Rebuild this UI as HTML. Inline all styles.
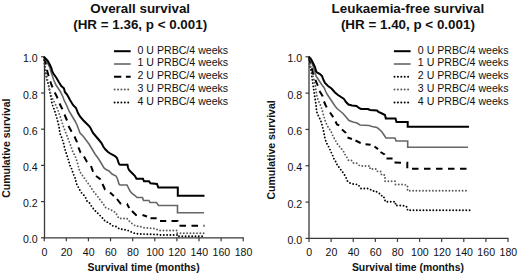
<!DOCTYPE html>
<html><head><meta charset="utf-8"><style>
html,body{margin:0;padding:0;background:#fff;}
svg{display:block;font-family:"Liberation Sans", sans-serif;}
</style></head><body>
<svg width="520" height="275" viewBox="0 0 520 275" fill="#111">
<text x="140.2" y="12.8" text-anchor="middle" font-weight="bold" font-size="13.4">Overall survival</text>
<text x="140.2" y="28.8" text-anchor="middle" font-weight="bold" font-size="13.4">(HR = 1.36, p &lt; 0.001)</text>
<path d="M44.5 56.8V237.8H243.73" fill="none" stroke="#3a3a3a" stroke-width="1.3"/>
<path d="M41.0 237.8H44.5" stroke="#3a3a3a" stroke-width="1.2"/>
<text transform="translate(37.7 243.3) scale(1.06 1)" text-anchor="end" font-size="10">0.0</text>
<path d="M41.0 201.6H44.5" stroke="#3a3a3a" stroke-width="1.2"/>
<text transform="translate(37.7 207.1) scale(1.06 1)" text-anchor="end" font-size="10">0.2</text>
<path d="M41.0 165.4H44.5" stroke="#3a3a3a" stroke-width="1.2"/>
<text transform="translate(37.7 170.9) scale(1.06 1)" text-anchor="end" font-size="10">0.4</text>
<path d="M41.0 129.2H44.5" stroke="#3a3a3a" stroke-width="1.2"/>
<text transform="translate(37.7 134.7) scale(1.06 1)" text-anchor="end" font-size="10">0.6</text>
<path d="M41.0 93.0H44.5" stroke="#3a3a3a" stroke-width="1.2"/>
<text transform="translate(37.7 98.5) scale(1.06 1)" text-anchor="end" font-size="10">0.8</text>
<path d="M41.0 56.8H44.5" stroke="#3a3a3a" stroke-width="1.2"/>
<text transform="translate(37.7 62.3) scale(1.06 1)" text-anchor="end" font-size="10">1.0</text>
<path d="M44.2 237.8V241.3" stroke="#3a3a3a" stroke-width="1.2"/>
<text transform="translate(44.5 256) scale(1.06 1)" text-anchor="middle" font-size="10">0</text>
<path d="M66.31 237.8V241.3" stroke="#3a3a3a" stroke-width="1.2"/>
<text transform="translate(66.61 256) scale(1.06 1)" text-anchor="middle" font-size="10">20</text>
<path d="M88.43 237.8V241.3" stroke="#3a3a3a" stroke-width="1.2"/>
<text transform="translate(88.73 256) scale(1.06 1)" text-anchor="middle" font-size="10">40</text>
<path d="M110.54 237.8V241.3" stroke="#3a3a3a" stroke-width="1.2"/>
<text transform="translate(110.84 256) scale(1.06 1)" text-anchor="middle" font-size="10">60</text>
<path d="M132.66 237.8V241.3" stroke="#3a3a3a" stroke-width="1.2"/>
<text transform="translate(132.96 256) scale(1.06 1)" text-anchor="middle" font-size="10">80</text>
<path d="M154.77 237.8V241.3" stroke="#3a3a3a" stroke-width="1.2"/>
<text transform="translate(155.07000000000002 256) scale(1.06 1)" text-anchor="middle" font-size="10">100</text>
<path d="M176.88 237.8V241.3" stroke="#3a3a3a" stroke-width="1.2"/>
<text transform="translate(177.18 256) scale(1.06 1)" text-anchor="middle" font-size="10">120</text>
<path d="M199.0 237.8V241.3" stroke="#3a3a3a" stroke-width="1.2"/>
<text transform="translate(199.3 256) scale(1.06 1)" text-anchor="middle" font-size="10">140</text>
<path d="M221.11 237.8V241.3" stroke="#3a3a3a" stroke-width="1.2"/>
<text transform="translate(221.41000000000003 256) scale(1.06 1)" text-anchor="middle" font-size="10">160</text>
<path d="M243.23 237.8V241.3" stroke="#3a3a3a" stroke-width="1.2"/>
<text transform="translate(243.53 256) scale(1.06 1)" text-anchor="middle" font-size="10">180</text>
<text x="143.6" y="270.8" text-anchor="middle" font-weight="bold" font-size="10.4">Survival time (months)</text>
<text transform="translate(9.7 148.2) rotate(-90)" text-anchor="middle" font-weight="bold" font-size="10.5">Cumulative survival</text>
<path d="M114 51.2H130.7" fill="none" stroke="#000" stroke-width="2"/>
<text x="137.5" y="53.6" font-size="10.6">0 U PRBC/4 weeks</text>
<path d="M114 64.0H130.7" fill="none" stroke="#666" stroke-width="1.6"/>
<text x="137.5" y="66.4" font-size="10.6">1 U PRBC/4 weeks</text>
<path d="M114 76.80000000000001H130.7" fill="none" stroke="#000" stroke-width="2" stroke-dasharray="7.3 4.6"/>
<text x="137.5" y="79.20000000000002" font-size="10.6">2 U PRBC/4 weeks</text>
<path d="M114.6 89.60000000000001H128.5" fill="none" stroke="#5a5a5a" stroke-width="2" stroke-dasharray="0 3.4" stroke-linecap="round"/>
<text x="137.5" y="92.00000000000001" font-size="10.6">3 U PRBC/4 weeks</text>
<path d="M114.6 102.4H128.5" fill="none" stroke="#000" stroke-width="2" stroke-dasharray="0 3.4" stroke-linecap="round"/>
<text x="137.5" y="104.80000000000001" font-size="10.6">4 U PRBC/4 weeks</text>
<path d="M44.00 57.00 44.50 65.00 45.50 73.00 47.00 80.00 49.00 87.00 50.50 95.00 51.50 100.00 52.00 104.00 53.50 107.50 55.50 113.50 57.50 120.50 59.00 126.50 60.00 133.50 61.50 137.00 62.50 140.00 63.50 143.00 64.50 147.50 66.00 152.50 67.00 155.50 68.00 158.50 69.00 162.00 70.00 165.50 71.50 168.50 73.00 173.00 74.00 175.50 75.50 179.00 76.00 182.00 77.00 185.00 78.50 187.50 80.00 190.50 82.00 193.50 84.00 195.30 85.50 197.50 87.00 201.00 89.50 203.00 92.00 207.00 95.00 210.50 97.50 213.00 100.00 215.50 102.50 218.00 105.00 221.00 108.00 222.50 110.50 224.00 113.00 226.00 116.00 226.50 119.50 229.00 123.00 229.50 127.00 230.00 130.00 231.50 133.00 232.50 135.00 233.50 140.00 234.00 157.00 234.50 160.00 235.00 177.00 235.00 177.00 236.30 204.50 236.30" fill="none" stroke="#000" stroke-width="1.9" stroke-dasharray="0 3.3" stroke-linecap="round"/>
<path d="M44.00 57.00 45.00 65.00 46.00 72.00 47.50 80.00 49.00 88.00 51.00 95.00 53.00 100.00 54.50 102.50 56.50 106.50 59.00 113.00 61.00 119.00 63.00 125.50 65.50 132.00 68.00 138.50 70.50 145.00 72.50 151.00 75.50 157.00 77.50 163.00 79.00 169.00 80.00 172.00 82.50 175.50 86.00 180.50 90.00 186.00 93.50 191.50 95.50 194.00 98.00 197.00 100.50 200.50 103.00 203.50 105.50 207.50 109.00 209.00 112.00 210.50 115.50 212.50 117.50 216.00 119.00 218.50 127.00 218.50 129.00 221.00 132.00 223.50 135.50 226.00 140.00 226.50 143.00 227.50 147.00 228.00 154.00 228.50 157.00 229.50 159.00 230.50 177.00 230.50 177.00 233.20 204.00 233.20" fill="none" stroke="#5a5a5a" stroke-width="1.9" stroke-dasharray="0 3.3" stroke-linecap="round"/>
<path d="M44.33 58.15 46.00 64.00 46.08 64.41 M47.09 69.82 47.50 72.00 48.67 76.11 M50.29 81.37 51.50 85.00 52.53 87.47 M54.75 92.50 57.00 97.00 57.53 98.37 M59.50 103.50 62.41 109.31 M64.50 114.50 67.00 120.50 M68.50 126.00 71.50 131.50 71.62 131.70 M74.50 136.50 77.00 142.00 77.06 142.22 M78.47 147.37 78.50 147.50 80.50 152.50 80.72 152.75 M84.00 156.50 87.00 162.00 87.12 162.12 M91.00 166.00 93.00 171.50 93.13 171.69 M96.00 176.00 100.00 179.00 100.32 179.64 M102.50 184.00 105.00 189.50 105.32 189.69 M110.00 192.50 113.88 195.90 M117.00 199.00 120.50 203.50 121.30 203.56 M126.98 204.00 127.00 204.00 129.27 208.09 M132.00 211.00 136.00 215.00 136.84 215.00 M142.50 215.00 146.98 216.49 M150.50 218.30 156.64 218.30 M160.00 221.00 166.21 221.00 M171.50 221.00 177.50 221.00 177.50 221.50 M179.50 225.80 186.00 225.80 M191.50 225.80 198.00 225.80 M203.50 225.80 204.50 225.80" fill="none" stroke="#000" stroke-width="2"/>
<path d="M44.00 57.00 46.00 60.00 48.00 64.00 49.60 67.00 51.20 72.60 52.70 76.70 53.70 80.00 56.00 85.00 60.00 91.00 63.00 97.00 64.00 100.00 66.50 105.00 69.00 111.00 72.00 116.00 75.00 121.00 77.00 125.00 78.50 129.00 80.00 133.00 83.00 136.00 86.00 140.00 89.00 144.00 92.00 149.00 95.00 154.00 99.00 159.50 102.00 164.50 104.00 168.00 106.00 169.50 109.00 171.00 112.00 174.00 116.00 176.00 117.50 179.00 119.00 184.00 120.00 185.00 127.00 185.00 128.50 188.00 130.00 191.00 132.00 193.50 135.00 195.50 137.00 197.50 142.50 197.50 143.50 200.50 149.00 200.50 150.00 202.50 156.50 202.50 158.50 205.50 177.50 205.50 177.50 212.80 204.00 212.80" fill="none" stroke="#666" stroke-width="1.6"/>
<path d="M44.00 57.00 47.60 60.60 49.60 64.20 51.40 68.00 52.20 71.10 53.70 74.10 56.20 77.50 58.80 82.00 61.30 86.10 63.90 88.20 64.90 92.00 67.00 94.50 69.00 98.00 70.00 100.00 73.00 105.00 76.00 108.00 78.00 113.00 80.00 116.50 83.00 120.00 86.00 123.00 89.00 126.00 90.50 128.00 93.00 133.00 96.00 136.50 99.00 140.00 101.50 143.00 103.50 147.00 105.50 149.50 108.00 152.00 111.00 154.00 115.00 156.00 117.00 158.00 118.00 161.00 119.00 164.00 120.00 164.80 127.50 164.80 128.00 167.50 129.00 170.00 131.00 172.00 133.00 174.00 135.00 176.00 136.50 178.80 143.00 178.80 144.00 181.30 149.00 181.30 150.50 183.30 157.00 184.00 158.30 187.50 177.80 187.50 177.80 195.80 204.50 195.80" fill="none" stroke="#000" stroke-width="2"/>
<text x="407.9" y="12.8" text-anchor="middle" font-weight="bold" font-size="13.4">Leukaemia-free survival</text>
<text x="407.9" y="28.8" text-anchor="middle" font-weight="bold" font-size="13.4">(HR = 1.40, p &lt; 0.001)</text>
<path d="M309 56.8V238.4H508.53" fill="none" stroke="#3a3a3a" stroke-width="1.3"/>
<path d="M305.5 238.4H309" stroke="#3a3a3a" stroke-width="1.2"/>
<text transform="translate(302.2 243.9) scale(1.06 1)" text-anchor="end" font-size="10">0.0</text>
<path d="M305.5 202.08H309" stroke="#3a3a3a" stroke-width="1.2"/>
<text transform="translate(302.2 207.58) scale(1.06 1)" text-anchor="end" font-size="10">0.2</text>
<path d="M305.5 165.76H309" stroke="#3a3a3a" stroke-width="1.2"/>
<text transform="translate(302.2 171.26) scale(1.06 1)" text-anchor="end" font-size="10">0.4</text>
<path d="M305.5 129.44H309" stroke="#3a3a3a" stroke-width="1.2"/>
<text transform="translate(302.2 134.94) scale(1.06 1)" text-anchor="end" font-size="10">0.6</text>
<path d="M305.5 93.12H309" stroke="#3a3a3a" stroke-width="1.2"/>
<text transform="translate(302.2 98.62) scale(1.06 1)" text-anchor="end" font-size="10">0.8</text>
<path d="M305.5 56.8H309" stroke="#3a3a3a" stroke-width="1.2"/>
<text transform="translate(302.2 62.3) scale(1.06 1)" text-anchor="end" font-size="10">1.0</text>
<path d="M309.0 238.4V241.9" stroke="#3a3a3a" stroke-width="1.2"/>
<text transform="translate(309.3 256) scale(1.06 1)" text-anchor="middle" font-size="10">0</text>
<path d="M331.11 238.4V241.9" stroke="#3a3a3a" stroke-width="1.2"/>
<text transform="translate(331.41 256) scale(1.06 1)" text-anchor="middle" font-size="10">20</text>
<path d="M353.23 238.4V241.9" stroke="#3a3a3a" stroke-width="1.2"/>
<text transform="translate(353.53000000000003 256) scale(1.06 1)" text-anchor="middle" font-size="10">40</text>
<path d="M375.34 238.4V241.9" stroke="#3a3a3a" stroke-width="1.2"/>
<text transform="translate(375.64 256) scale(1.06 1)" text-anchor="middle" font-size="10">60</text>
<path d="M397.46 238.4V241.9" stroke="#3a3a3a" stroke-width="1.2"/>
<text transform="translate(397.76 256) scale(1.06 1)" text-anchor="middle" font-size="10">80</text>
<path d="M419.57 238.4V241.9" stroke="#3a3a3a" stroke-width="1.2"/>
<text transform="translate(419.87 256) scale(1.06 1)" text-anchor="middle" font-size="10">100</text>
<path d="M441.68 238.4V241.9" stroke="#3a3a3a" stroke-width="1.2"/>
<text transform="translate(441.98 256) scale(1.06 1)" text-anchor="middle" font-size="10">120</text>
<path d="M463.8 238.4V241.9" stroke="#3a3a3a" stroke-width="1.2"/>
<text transform="translate(464.1 256) scale(1.06 1)" text-anchor="middle" font-size="10">140</text>
<path d="M485.91 238.4V241.9" stroke="#3a3a3a" stroke-width="1.2"/>
<text transform="translate(486.21000000000004 256) scale(1.06 1)" text-anchor="middle" font-size="10">160</text>
<path d="M508.03 238.4V241.9" stroke="#3a3a3a" stroke-width="1.2"/>
<text transform="translate(508.33 256) scale(1.06 1)" text-anchor="middle" font-size="10">180</text>
<text x="407.9" y="270.8" text-anchor="middle" font-weight="bold" font-size="10.4">Survival time (months)</text>
<text transform="translate(275 149.9) rotate(-90)" text-anchor="middle" font-weight="bold" font-size="10.5">Cumulative survival</text>
<path d="M393.9 51.2H410.59999999999997" fill="none" stroke="#000" stroke-width="2"/>
<text x="417.8" y="53.6" font-size="10.6">0 U PRBC/4 weeks</text>
<path d="M393.9 64.0H410.59999999999997" fill="none" stroke="#666" stroke-width="1.6"/>
<text x="417.8" y="66.4" font-size="10.6">1 U PRBC/4 weeks</text>
<path d="M394.5 76.80000000000001H408.4" fill="none" stroke="#000" stroke-width="2" stroke-dasharray="0 3.4" stroke-linecap="round"/>
<text x="417.8" y="79.20000000000002" font-size="10.6">2 U PRBC/4 weeks</text>
<path d="M394.5 89.60000000000001H408.4" fill="none" stroke="#5a5a5a" stroke-width="2" stroke-dasharray="0 3.4" stroke-linecap="round"/>
<text x="417.8" y="92.00000000000001" font-size="10.6">3 U PRBC/4 weeks</text>
<path d="M394.5 102.4H408.4" fill="none" stroke="#000" stroke-width="2" stroke-dasharray="0 3.4" stroke-linecap="round"/>
<text x="417.8" y="104.80000000000001" font-size="10.6">4 U PRBC/4 weeks</text>
<path d="M309.00 57.00 310.00 65.00 311.50 73.00 312.50 81.00 313.00 84.50 313.50 88.00 314.00 91.00 314.50 95.00 315.00 98.00 315.50 101.50 316.00 104.50 316.30 108.00 316.60 111.50 317.50 114.00 319.00 117.00 320.50 120.00 321.50 123.00 322.50 126.50 323.30 130.00 324.00 133.00 324.50 136.50 325.50 140.00 326.50 143.00 328.00 145.50 329.50 148.50 331.00 152.00 332.50 155.00 333.50 158.00 335.00 160.50 336.50 163.00 337.50 166.00 339.50 167.50 341.00 170.00 342.50 172.00 344.00 174.00 345.50 176.50 346.50 178.50 347.50 181.00 350.00 183.00 352.50 184.00 358.00 184.50 359.50 186.50 361.00 188.50 367.50 188.50 370.50 189.50 372.50 191.00 375.50 191.00 377.50 192.50 379.50 193.50 381.00 195.50 383.50 196.00 384.50 199.00 385.50 201.80 395.50 201.80 395.50 205.50 402.00 205.50 405.50 206.00 407.50 207.50 407.50 210.20 470.00 210.20" fill="none" stroke="#000" stroke-width="1.9" stroke-dasharray="0 3.3" stroke-linecap="round"/>
<path d="M309.00 57.00 310.50 66.00 312.50 74.00 314.50 82.00 315.50 87.00 316.00 91.00 317.00 96.00 318.00 100.00 320.00 104.00 321.50 108.00 322.50 111.50 323.50 115.00 324.50 118.50 325.50 122.00 327.00 125.00 328.50 128.00 330.50 130.50 332.00 133.50 333.00 136.50 335.00 139.50 336.50 142.50 338.00 145.00 340.00 147.00 342.00 149.50 343.50 151.50 345.00 154.50 347.00 157.50 348.50 160.50 351.50 160.50 353.00 163.00 356.50 163.00 358.00 164.50 360.00 166.00 370.00 166.00 370.00 169.00 376.50 169.00 377.50 171.50 381.00 171.50 381.50 175.00 384.50 175.00 385.00 178.00 385.00 181.20 395.00 181.20 395.50 184.50 404.00 184.50 407.50 185.50 407.50 190.80 469.00 190.80" fill="none" stroke="#5a5a5a" stroke-width="1.9" stroke-dasharray="0 3.3" stroke-linecap="round"/>
<path d="M309.00 57.00 310.49 62.95 M311.82 68.29 313.00 73.00 313.55 74.55 M315.40 79.73 315.50 80.00 317.50 85.00 317.76 85.78 M319.50 91.00 322.50 96.00 322.60 96.38 M324.00 101.50 325.50 105.00 326.70 107.41 M330.00 112.50 333.27 117.18 M335.50 121.50 335.50 121.50 337.00 124.50 339.28 125.41 M342.00 129.50 345.50 132.50 345.79 133.23 M347.50 137.50 351.88 138.96 M355.50 140.50 360.50 143.00 360.70 143.05 M365.50 144.20 370.50 144.70 370.55 144.72 M374.50 146.50 378.04 149.16 M380.50 152.00 384.50 154.50 384.61 154.72 M386.50 158.50 392.56 158.50 M394.50 162.61 400.98 162.70 M406.50 162.79 407.30 162.80 407.30 168.16 M412.00 168.70 418.50 168.70 M424.00 168.70 430.50 168.70 M436.00 168.70 442.50 168.70 M448.00 168.70 454.50 168.70 M460.00 168.70 466.50 168.70" fill="none" stroke="#000" stroke-width="2"/>
<path d="M309.00 57.00 311.00 61.00 313.00 66.00 314.50 71.00 316.00 76.00 318.00 79.00 320.00 82.00 322.00 85.00 324.00 87.50 325.50 91.00 327.00 94.00 329.00 97.00 331.00 100.00 333.00 103.00 335.00 106.00 337.00 108.50 340.00 111.00 343.00 113.50 346.00 117.00 349.00 120.50 353.00 122.00 357.00 123.00 360.00 125.00 369.00 125.50 372.00 126.50 377.00 127.50 379.00 129.00 382.00 132.00 384.00 135.00 386.00 138.00 395.00 138.00 396.00 141.00 407.70 141.00 407.70 147.20 468.00 147.20" fill="none" stroke="#666" stroke-width="1.6"/>
<path d="M309.00 57.00 311.00 59.00 313.00 63.00 315.00 67.00 316.00 71.00 317.00 72.50 320.00 74.00 322.00 76.00 323.50 80.00 325.00 83.00 328.00 86.00 331.50 88.50 335.00 92.50 338.00 95.00 341.00 97.00 344.00 99.00 346.00 102.00 348.50 104.50 352.00 105.50 356.50 106.00 359.00 108.00 361.00 109.00 368.00 109.00 370.00 110.00 377.00 110.50 378.50 112.00 382.00 113.50 385.00 115.00 385.80 118.50 395.50 118.50 396.50 122.00 407.70 122.00 407.70 126.70 469.00 126.70" fill="none" stroke="#000" stroke-width="2"/>
</svg>
</body></html>
